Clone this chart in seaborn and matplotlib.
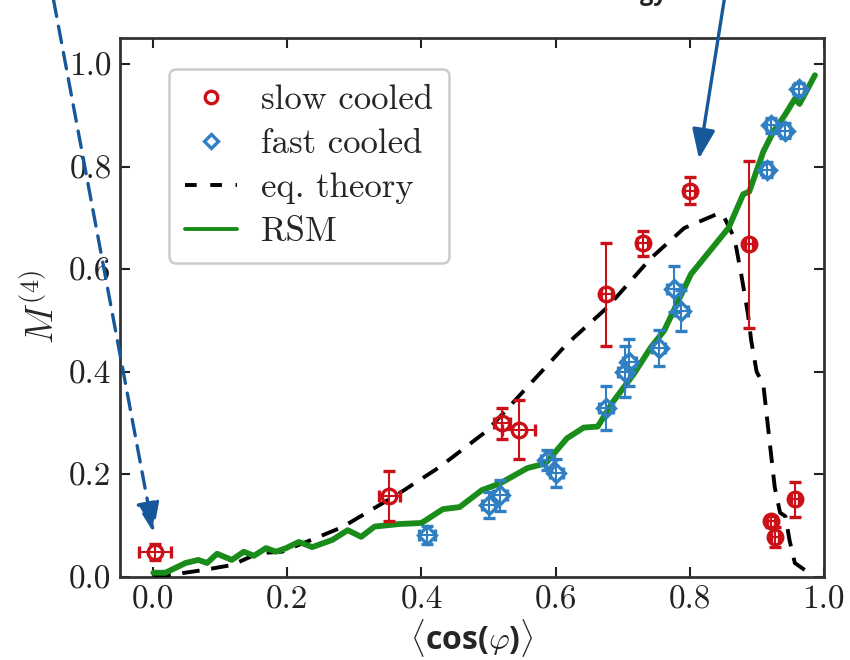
import matplotlib
matplotlib.use('Agg')
import matplotlib.pyplot as plt
from matplotlib.lines import Line2D
import pandas as pd
import seaborn as sns

# slow cooled samples (red circles)
slow_x = [0.003, 0.352, 0.520, 0.545, 0.676, 0.730, 0.800, 0.889, 0.922, 0.927, 0.957]
slow_y = [0.048, 0.158, 0.299, 0.287, 0.551, 0.650, 0.753, 0.648, 0.108, 0.078, 0.151]
slow_xerr = [0.024, 0.016, 0.012, 0.025, 0.008, 0.008, 0.008, 0.006, 0.006, 0.006, 0.006]
slow_yerr = [0.016, 0.049, 0.031, 0.057, 0.100, 0.024, 0.027, 0.162, 0.010, 0.020, 0.034]

# fast cooled samples (blue diamonds)
fast_x = [0.408, 0.500, 0.517, 0.588, 0.601, 0.675, 0.703, 0.710, 0.754, 0.777,
          0.787, 0.915, 0.922, 0.942, 0.963]
fast_y = [0.082, 0.140, 0.159, 0.228, 0.202, 0.330, 0.400, 0.418, 0.447, 0.561,
          0.519, 0.794, 0.880, 0.870, 0.951]
fast_xerr = [0.012, 0.010, 0.010, 0.010, 0.010, 0.010, 0.010, 0.010, 0.010, 0.010,
             0.010, 0.008, 0.008, 0.008, 0.008]
fast_yerr = [0.018, 0.025, 0.030, 0.020, 0.027, 0.043, 0.050, 0.045, 0.035, 0.045,
             0.040, 0.015, 0.015, 0.015, 0.012]

# equilibrium theory (dashed)
eq_x = [0.000, 0.037, 0.078, 0.117, 0.157, 0.192, 0.243, 0.282, 0.367, 0.427,
        0.498, 0.567, 0.617, 0.677, 0.742, 0.792, 0.844, 0.852, 0.867, 0.877,
        0.887, 0.892, 0.900, 0.910, 0.918, 0.927, 0.935, 0.943, 0.949, 0.957,
        0.970, 0.982]
eq_y = [0.000, 0.006, 0.014, 0.023, 0.046, 0.049, 0.076, 0.097, 0.163, 0.214,
        0.285, 0.383, 0.454, 0.525, 0.621, 0.680, 0.709, 0.700, 0.660, 0.590,
        0.513, 0.460, 0.400, 0.375, 0.280, 0.175, 0.125, 0.118, 0.072, 0.027,
        0.015, 0.005]

# RSM simulation (green)
rsm_x = [0.000, 0.018, 0.048, 0.067, 0.080, 0.095, 0.117, 0.135, 0.150, 0.168,
         0.183, 0.198, 0.217, 0.237, 0.267, 0.290, 0.310, 0.330, 0.367, 0.400,
         0.432, 0.457, 0.490, 0.517, 0.558, 0.585, 0.617, 0.642, 0.663, 0.685,
         0.717, 0.742, 0.762, 0.802, 0.858, 0.880, 0.889, 0.910, 0.925, 0.942,
         0.957, 0.964, 0.987]
rsm_y = [0.008, 0.008, 0.027, 0.033, 0.027, 0.045, 0.033, 0.049, 0.041, 0.056,
         0.049, 0.056, 0.068, 0.058, 0.072, 0.091, 0.078, 0.098, 0.103, 0.105,
         0.132, 0.136, 0.169, 0.182, 0.212, 0.221, 0.270, 0.291, 0.293, 0.340,
         0.396, 0.447, 0.480, 0.590, 0.680, 0.746, 0.751, 0.829, 0.868, 0.900,
         0.932, 0.922, 0.978]

x_ticks = [0.0, 0.2, 0.4, 0.6, 0.8, 1.0]
y_ticks = [0.0, 0.2, 0.4, 0.6, 0.8, 1.0]

red = '#cc1018'
blue = '#2f7fc2'
green = '#1a8c1a'
arrow_blue = '#17589a'

sns.set_style('ticks')
plt.rcParams['font.family'] = 'serif'
plt.rcParams['font.serif'] = ['cmr10']
plt.rcParams['mathtext.fontset'] = 'cm'
plt.rcParams['axes.formatter.use_mathtext'] = True

fig = plt.figure(figsize=(8.5, 6.6), dpi=100)
ax = fig.add_axes([0.141, 0.126, 0.828, 0.816])

eq_df = pd.DataFrame({'x': eq_x, 'y': eq_y})
rsm_df = pd.DataFrame({'x': rsm_x, 'y': rsm_y})

sns.lineplot(data=eq_df, x='x', y='y', ax=ax, sort=False, color='black',
             linewidth=2.8, linestyle=(0, (4.5, 3)), zorder=3)
sns.lineplot(data=rsm_df, x='x', y='y', ax=ax, sort=False, color=green,
             linewidth=4.2, zorder=4)

ax.errorbar(slow_x, slow_y, xerr=slow_xerr, yerr=slow_yerr, fmt='o', color=red,
            mfc='none', mec=red, ms=10.5, mew=2.4, elinewidth=1.5, capsize=4,
            capthick=1.8, zorder=5)
ax.errorbar(fast_x, fast_y, xerr=fast_xerr, yerr=fast_yerr, fmt='D', color=blue,
            mfc='none', mec=blue, ms=9, mew=2.4, elinewidth=1.5, capsize=4,
            capthick=1.8, zorder=5)

ax.set_xlim(-0.05, 1.0)
ax.set_ylim(0, 1.05)
ax.set_xticks(x_ticks)
ax.set_yticks(y_ticks)
ax.set_xticklabels([f'{t:.1f}' for t in x_ticks])
ax.set_yticklabels([f'{t:.1f}' for t in y_ticks])
ax.tick_params(direction='in', top=True, right=True, length=7, width=1.5,
               labelsize=24, pad=6, colors='#222222')
for sp in ax.spines.values():
    sp.set_linewidth(2)
    sp.set_color('#333333')

ax.set_xlabel(r'$\langle$cos($\varphi$)$\rangle$', family=['Open Sans', 'DejaVu Sans'],
              fontweight='bold', fontsize=23, labelpad=2)
ax.set_ylabel(r'$M^{(4)}$', fontsize=27, labelpad=6)

handles = [
    Line2D([], [], marker='o', ls='none', mfc='none', mec=red, ms=9, mew=2.4),
    Line2D([], [], marker='D', ls='none', mfc='none', mec=blue, ms=7.5, mew=2.4),
    Line2D([], [], color='black', lw=2.8, ls=(0, (3, 3.5))),
    Line2D([], [], color=green, lw=2.8),
]
labels = ['slow cooled', 'fast cooled', 'eq. theory', 'RSM']
leg = ax.legend(handles, labels, loc='upper left', bbox_to_anchor=(0.045, 0.975),
                fontsize=25, frameon=True, fancybox=True, framealpha=1,
                handlelength=1.5, handletextpad=0.7, labelspacing=0.35,
                borderpad=0.45)
leg.get_frame().set_edgecolor('#cccccc')
leg.get_frame().set_linewidth(1.8)

# annotation arrows pointing at the data
ax.annotate('', xy=(0.0, 0.087), xycoords='data', xytext=(0.063, 1.0),
            textcoords='figure fraction', annotation_clip=False,
            arrowprops=dict(arrowstyle='-|>,head_length=0.9,head_width=0.35',
                            mutation_scale=20, color=arrow_blue, lw=2.4,
                            ls=(0, (5, 3)), shrinkA=0, shrinkB=0))
ax.annotate('', xy=(0.814, 0.815), xycoords='data', xytext=(0.852, 1.0),
            textcoords='figure fraction', annotation_clip=False,
            arrowprops=dict(arrowstyle='-|>,head_length=0.9,head_width=0.35',
                            mutation_scale=20, color=arrow_blue, lw=2.4,
                            shrinkA=0, shrinkB=0))

fig.text(0.785, 1.0, 'energy', ha='right', va='baseline', fontsize=17,
         fontweight='bold', family=['Open Sans', 'DejaVu Sans'])

fig.savefig('out.png', dpi=100)
